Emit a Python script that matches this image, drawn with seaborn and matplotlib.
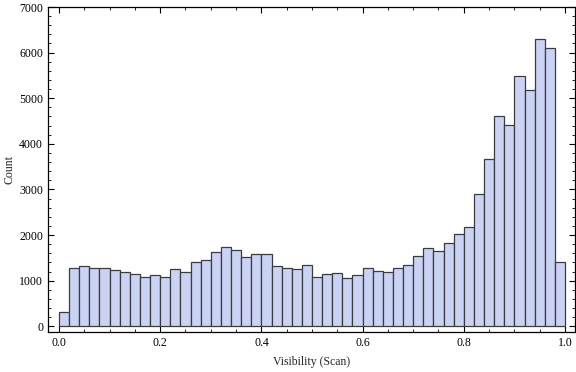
import numpy as np
import pandas as pd
import matplotlib
matplotlib.use("Agg")
import matplotlib.pyplot as plt
import seaborn as sns
from matplotlib.ticker import MultipleLocator

bin_edges = [round(i * 0.02, 2) for i in range(51)]
bin_centers = [round(0.01 + i * 0.02, 2) for i in range(50)]
counts = [307, 1273, 1317, 1273, 1273, 1229, 1185, 1156, 1075, 1119,
          1075, 1251, 1185, 1405, 1448, 1624, 1734, 1668, 1514, 1580,
          1580, 1317, 1273, 1251, 1339, 1075, 1141, 1163, 1053, 1119,
          1273, 1207, 1185, 1273, 1339, 1536, 1712, 1646, 1822, 2019,
          2173, 2897, 3665, 4609, 4411, 5486, 5179, 6298, 6101, 1405]
xticks = [0.0, 0.2, 0.4, 0.6, 0.8, 1.0]
yticks = [0, 1000, 2000, 3000, 4000, 5000, 6000, 7000]

df = pd.DataFrame({"visibility": bin_centers, "count": counts})

sns.set_theme(style="white")
plt.rcParams['font.family'] = ['Liberation Serif', 'DejaVu Serif']

fig = plt.figure(figsize=(5.76, 3.72), dpi=100)
ax = fig.add_axes([48/576, 1 - 332/372, (575-48)/576, (332-7)/372])

sns.histplot(data=df, x="visibility", weights="count", bins=bin_edges,
             color="#cbd3f5", edgecolor="#3c3c3c", linewidth=0.9, alpha=1.0,
             ax=ax)

ax.set_xlim(-0.0217, 1.0198)
ax.set_ylim(-125, 7000)
ax.set_xticks(xticks)
ax.set_xticklabels([f"{t:.1f}" for t in xticks])
ax.set_yticks(yticks)
ax.set_yticklabels([str(t) for t in yticks])
ax.xaxis.set_minor_locator(MultipleLocator(0.05))
ax.yaxis.set_minor_locator(MultipleLocator(200))
ax.tick_params(which='both', direction='in', top=True, right=True,
               bottom=True, left=True, colors='black', labelsize=8.5)
ax.tick_params(which='major', length=4, width=0.8)
ax.tick_params(which='minor', length=2, width=0.6)
for s in ax.spines.values():
    s.set_color('black')
    s.set_linewidth(0.9)
ax.set_xlabel("Visibility (Scan)", fontsize=8.5)
ax.set_ylabel("Count", fontsize=8.5)
ax.yaxis.set_label_coords(-0.062, 0.5)
ax.xaxis.set_label_coords(0.5, -0.075)
ax.grid(False)

fig.savefig("out.png", dpi=100)
